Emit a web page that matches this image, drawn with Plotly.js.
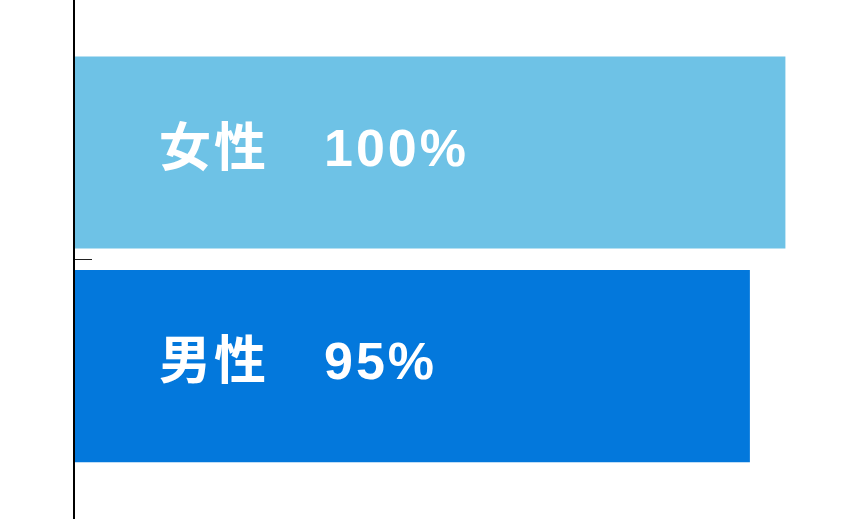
<!DOCTYPE html>
<html>
<head>
<meta charset="utf-8">
<script src="https://cdn.plot.ly/plotly-3.0.1.min.js"></script>
<style>
  html, body { margin: 0; padding: 0; background: #fff; }
  #chart { width: 860px; height: 519px; }
  .annotation-text { letter-spacing: 3px; }
</style>
</head>
<body>
<div id="chart"></div>
<script>
// share of respondents by gender
var categories = ['男性', '女性'];
var values = [95, 100];
var barColors = ['#0378DC', '#6EC2E6'];

var positions = categories.map(function (c, i) { return i; });

var trace = {
  type: 'bar',
  orientation: 'h',
  x: values,
  y: positions,
  marker: { color: barColors },
  hoverinfo: 'none',
  showlegend: false
};

// labels sit inside each bar, a bit in from the axis
var annotations = categories.map(function (c, i) {
  return {
    x: 11.6,
    y: positions[i],
    xref: 'x',
    yref: 'y',
    xanchor: 'left',
    yanchor: 'middle',
    yshift: 5,
    text: c + '\u3000' + values[i] + '%',
    showarrow: false,
    font: {
      family: 'Liberation Sans, Arial, "Noto Sans CJK JP", sans-serif',
      size: 52,
      color: '#ffffff',
      weight: 'bold'
    }
  };
});

var layout = {
  width: 860,
  height: 519,
  margin: { l: 75, r: 0, t: 0, b: 0 },
  paper_bgcolor: '#ffffff',
  plot_bgcolor: '#ffffff',
  bargap: 0.1,
  xaxis: {
    range: [0, 110.5],
    visible: false,
    fixedrange: true
  },
  yaxis: {
    range: [-0.716, 1.714],
    showline: true,
    linecolor: '#000000',
    linewidth: 2,
    ticks: 'inside',
    ticklen: 17,
    tickwidth: 1,
    tickcolor: '#222222',
    tickmode: 'array',
    tickvals: [0.5],
    showticklabels: false,
    showgrid: false,
    zeroline: false,
    fixedrange: true
  },
  annotations: annotations
};

Plotly.newPlot('chart', [trace], layout, { displayModeBar: false, staticPlot: true });
</script>
</body>
</html>
